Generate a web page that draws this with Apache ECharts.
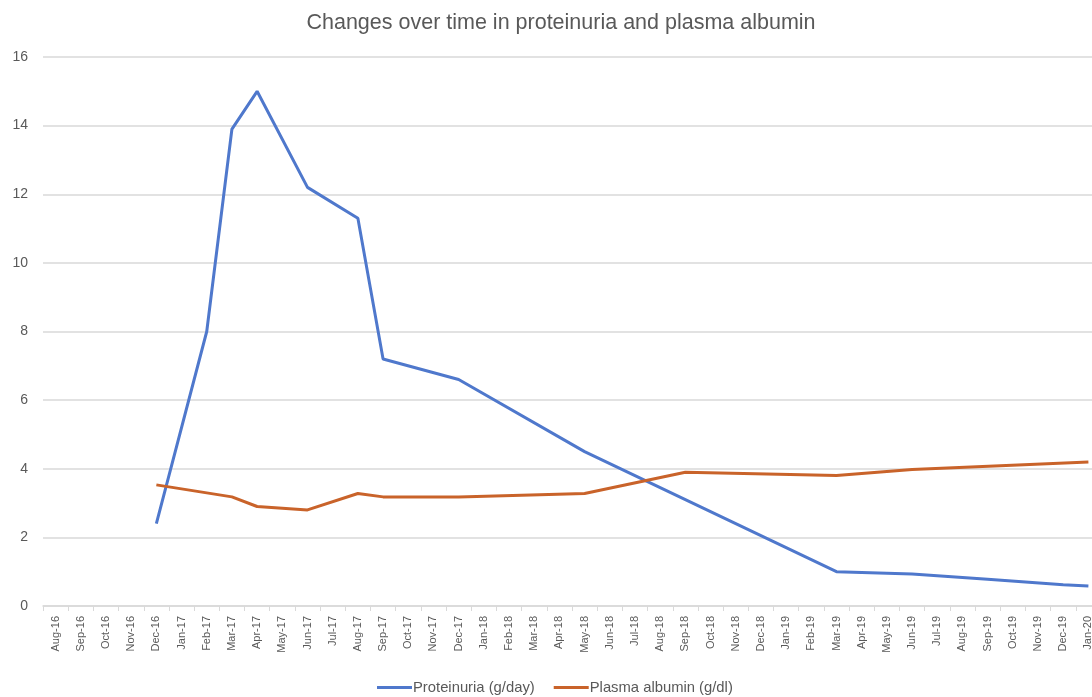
<!DOCTYPE html>
<html>
<head>
<meta charset="utf-8">
<script src="https://cdn.jsdelivr.net/npm/echarts@6/dist/echarts.min.js"></script>
<style>html,body{margin:0;padding:0;background:#fff;}#c{width:1092px;height:697px;}</style>
</head>
<body>
<div id="c"></div>
<script>
const categories = ["Aug-16","Sep-16","Oct-16","Nov-16","Dec-16",
  "Jan-17","Feb-17","Mar-17","Apr-17","May-17","Jun-17","Jul-17","Aug-17","Sep-17","Oct-17","Nov-17","Dec-17",
  "Jan-18","Feb-18","Mar-18","Apr-18","May-18","Jun-18","Jul-18","Aug-18","Sep-18","Oct-18","Nov-18","Dec-18",
  "Jan-19","Feb-19","Mar-19","Apr-19","May-19","Jun-19","Jul-19","Aug-19","Sep-19","Oct-19","Nov-19","Dec-19",
  "Jan-20"];
// values by category (null = no measurement)
const proteinuria = [null,null,null,null,2.4,
  null,8.0,13.9,15.0,null,12.2,null,11.3,7.2,null,null,6.6,
  null,null,null,null,4.5,null,null,null,null,null,null,null,
  null,null,1.0,null,null,0.93,null,null,0.78,null,null,0.62,
  0.58];
const albumin = [null,null,null,null,3.53,
  null,null,3.18,2.9,null,2.8,null,3.28,3.18,null,null,3.18,
  null,null,null,null,3.28,null,null,null,3.9,null,null,null,
  null,null,3.8,null,null,3.98,null,null,null,null,null,null,
  4.2];
const seriesNames = ["Proteinuria (g/day)", "Plasma albumin (g/dl)"];
const titleText = "Changes over time in proteinuria and plasma albumin";

const chart = echarts.init(document.getElementById('c'));
chart.setOption({
  animation: false,
  backgroundColor: '#ffffff',
  textStyle: { fontFamily: 'Liberation Sans, Arial, sans-serif' },
  title: {
    text: titleText, left: 556, top: 7, textAlign: 'center',
    textStyle: { fontSize: 21.5, fontWeight: 'normal', color: '#595959', fontFamily: 'Liberation Sans, Arial, sans-serif' }
  },
  legend: {
    data: seriesNames, top: 680, left: 377, padding: 0, icon: 'rect',
    itemWidth: 35, itemHeight: 3, itemGap: 19,
    textStyle: { fontSize: 14.8, color: '#595959', padding: [0, 0, 0, -4] }
  },
  grid: { left: 43, top: 57, width: 1058, height: 549, containLabel: false, outerBoundsMode: 'none' },
  xAxis: {
    type: 'category', data: categories, boundaryGap: true,
    axisLine: { lineStyle: { color: '#d9d9d9', width: 1.5 } },
    axisTick: { show: true, length: 5, lineStyle: { color: '#d9d9d9' } },
    axisLabel: { rotate: 90, interval: 0, fontSize: 11, color: '#595959', margin: 10 }
  },
  yAxis: {
    type: 'value', min: 0, max: 16, interval: 2,
    axisLine: { show: false }, axisTick: { show: false },
    axisLabel: { fontSize: 14, color: '#595959', margin: 15 },
    splitLine: { lineStyle: { color: '#d9d9d9', width: 1.5 } }
  },
  series: [
    { name: seriesNames[0], type: 'line', data: proteinuria, connectNulls: true, showSymbol: false,
      color: '#4f78cc', lineStyle: { width: 3, color: '#4f78cc' } },
    { name: seriesNames[1], type: 'line', data: albumin, connectNulls: true, showSymbol: false,
      color: '#c9632a', lineStyle: { width: 3, color: '#c9632a' } }
  ]
});
</script>
</body>
</html>
